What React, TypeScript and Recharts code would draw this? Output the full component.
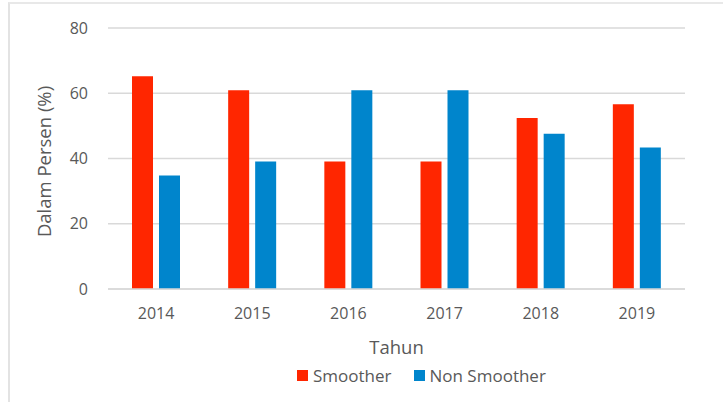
import {
  BarChart,
  Bar,
  XAxis,
  YAxis,
  CartesianGrid,
  Legend,
} from "recharts";

const years = ["2014", "2015", "2016", "2017", "2018", "2019"];
const smoother = [65.2, 60.9, 39.1, 39.1, 52.4, 56.6];
const nonSmoother = [34.8, 39.1, 60.9, 60.9, 47.6, 43.4];
const yTicks = [0, 20, 40, 60, 80];
const seriesNames = ["Smoother", "Non Smoother"];

const data = years.map((year, i) => ({
  year,
  smoother: smoother[i],
  nonSmoother: nonSmoother[i],
}));

const font = "'Open Sans', sans-serif";
const textColor = "#595959";

function LegendBox({ payload }: any) {
  const items = [...(payload || [])].sort(
    (a: any, b: any) =>
      seriesNames.indexOf(a.value) - seriesNames.indexOf(b.value)
  );
  return (
    <div style={{ display: "flex", alignItems: "center" }}>
      {items.map((item: any) => (
        <div
          key={item.value}
          style={{
            display: "flex",
            alignItems: "center",
            marginRight: 22,
          }}
        >
          <span
            style={{
              width: 11,
              height: 11,
              background: item.color,
              marginRight: 5,
              display: "inline-block",
            }}
          />
          <span style={{ color: textColor, fontSize: 17 }}>
            {item.value}
          </span>
        </div>
      ))}
    </div>
  );
}

export default function App() {
  return (
    <div
      style={{
        position: "absolute",
        left: 0,
        top: 0,
        width: 723,
        height: 402,
        background: "#fff",
        fontFamily: font,
      }}
    >
      {/* chart frame, only top and left edges visible */}
      <div
        style={{
          position: "absolute",
          left: 8,
          top: 2,
          right: 0,
          bottom: 0,
          borderLeft: "2px solid #e3e3e3",
          borderTop: "2px solid #e8e8e8",
        }}
      />

      <BarChart
        width={723}
        height={402}
        data={data}
        margin={{ top: 28, right: 38, left: 48, bottom: 0 }}
        barSize={21}
        barGap={6}
        style={{ position: "absolute", left: 0, top: 0 }}
      >
        <CartesianGrid
          vertical={false}
          stroke="#d9d9d9"
          strokeWidth={1.5}
        />

        <XAxis
          dataKey="year"
          height={89}
          tickLine={false}
          axisLine={{ stroke: "#d9d9d9", strokeWidth: 1.5 }}
          tickSize={0}
          tickMargin={19}
          tick={{ fill: textColor, fontSize: 16, fontFamily: font }}
          label={{
            value: "Tahun",
            position: "insideBottom",
            offset: 24,
            fill: textColor,
            fontSize: 18.5,
            fontFamily: font,
          }}
        />

        <YAxis
          width={60}
          domain={[0, 80]}
          ticks={yTicks}
          axisLine={false}
          tickLine={false}
          tickSize={0}
          tickMargin={20}
          tick={{ fill: textColor, fontSize: 16, fontFamily: font }}
          label={{
            value: "Dalam Persen (%)",
            angle: -90,
            position: "center",
            dx: -34,
            dy: 3,
            fill: textColor,
            fontSize: 18.5,
            fontFamily: font,
          }}
        />

        <Legend
          verticalAlign="bottom"
          height={24}
          content={<LegendBox />}
          wrapperStyle={{ left: 297, top: 364, width: "auto" }}
        />

        <Bar
          dataKey="smoother"
          name="Smoother"
          fill="#ff2600"
          isAnimationActive={false}
        />

        <Bar
          dataKey="nonSmoother"
          name="Non Smoother"
          fill="#0085cc"
          isAnimationActive={false}
        />
      </BarChart>
    </div>
  );
}
